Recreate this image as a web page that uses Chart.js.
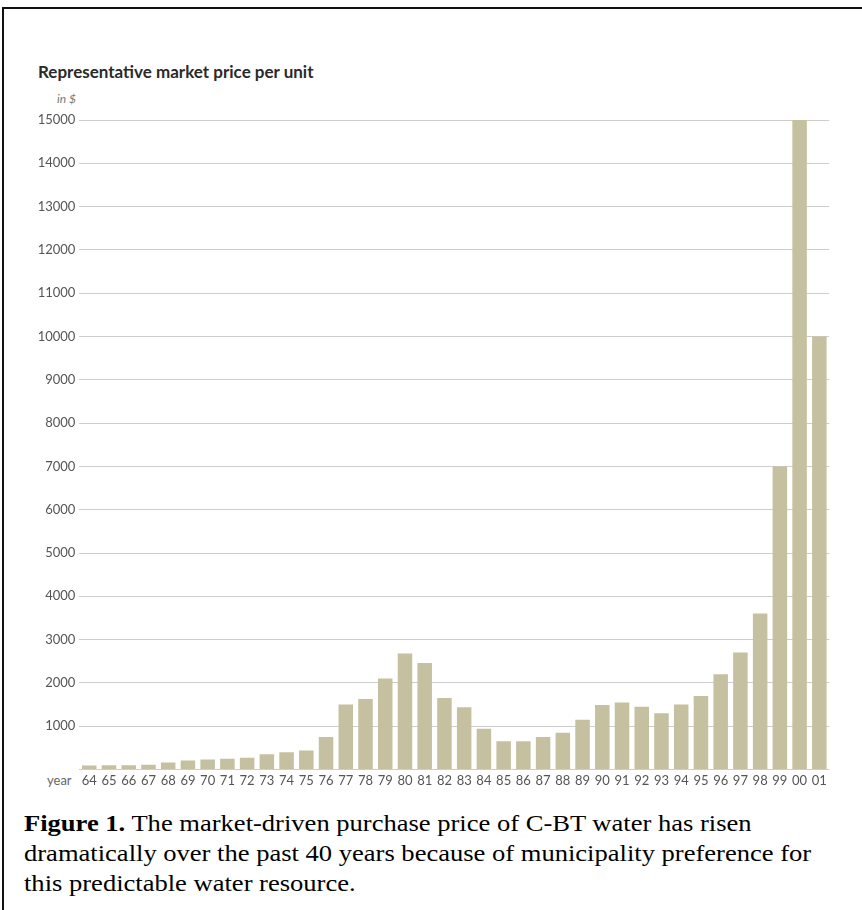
<!DOCTYPE html>
<html>
<head>
<meta charset="utf-8">
<script src="https://cdn.jsdelivr.net/npm/chart.js@4"></script>
<style>
  body { margin: 0; background: #fff; width: 862px; height: 910px; position: relative; overflow: hidden; }
  #frame { position: absolute; left: 2px; top: 7px; width: 900px; height: 950px; border-top: 2px solid #111; border-left: 2px solid #111; }
  #title { position: absolute; left: 38px; top: 62px; font: bold 17px Lato, sans-serif; line-height: 20px; color: #2a2a2a; white-space: nowrap; }
  #unit { position: absolute; left: 0; width: 76px; top: 92px; text-align: right; font: italic 12px Lato, sans-serif; line-height: 14px; color: #777; }
  #year { position: absolute; left: 47px; top: 772px; font: 13px Lato, sans-serif; line-height: 16px; color: #666; }
  #box { position: absolute; left: 0; top: 100px; width: 862px; height: 700px; }
  #caption { position: absolute; left: 24px; top: 808px; font: 24px "Liberation Serif", "Times New Roman", serif; line-height: 30px; color: #000; white-space: nowrap; transform: scaleX(1.106); transform-origin: 0 0; }
</style>
</head>
<body>
<div id="frame"></div>
<div id="title">Representative market price per unit</div>
<div id="unit">in $</div>
<div id="year">year</div>
<div id="box"><canvas id="grafica"></canvas></div>
<div id="caption"><b>Figure 1.</b> The market-driven purchase price of C-BT water has risen<br>dramatically over the past 40 years because of municipality preference for<br>this predictable water resource.</div>

<script>
// años (dos cifras) y precio por unidad en $
const years = ['64', '65', '66', '67', '68', '69', '70', '71', '72', '73', '74', '75', '76',
    '77', '78', '79', '80', '81', '82', '83', '84', '85', '86', '87', '88',
    '89', '90', '91', '92', '93', '94', '95', '96', '97', '98', '99', '00', '01'];
const prices = [90, 100, 100, 110, 160, 210, 230, 250, 270, 350, 400, 440, 750,
    1500, 1630, 2100, 2680, 2460, 1650, 1440, 940, 650, 650, 750, 850,
    1150, 1490, 1550, 1450, 1300, 1500, 1700, 2200, 2700, 3600, 7000, 15000, 10000];
const yMax = 15000;
const yStep = 1000;

let ctx = document.getElementById('grafica').getContext('2d');
new Chart(ctx, {
    type: 'bar',
    data: {
        labels: years,
        datasets: [{
            label: 'Price',
            data: prices,
            backgroundColor: 'rgb(197, 192, 159)',
            borderWidth: 0,
            categoryPercentage: 1,
            barPercentage: 0.735
        }]
    },
    options: {
        responsive: true,
        maintainAspectRatio: false,
        animation: false,
        layout: { padding: { left: 0, right: 32.8, top: 20, bottom: 0.5 } },
        plugins: { legend: { display: false }, tooltip: { enabled: false } },
        scales: {
            x: {
                grid: { display: false, drawTicks: false },
                border: { display: false },
                ticks: {
                    autoSkip: false, maxRotation: 0, padding: 4,
                    color: '#555', font: { family: 'Lato', size: 13 }
                },
                afterFit: s => { s.height = 30; }
            },
            y: {
                min: 0, max: yMax,
                grid: { color: '#cdcdcd', lineWidth: 1, drawTicks: false },
                border: { display: false },
                ticks: {
                    stepSize: yStep, padding: 4,
                    color: '#555', font: { family: 'Lato', size: 13 },
                    callback: v => v === 0 ? '' : String(v)
                },
                afterFit: s => { s.width = 79.4; }
            }
        }
    }
});
</script>
</body>
</html>
